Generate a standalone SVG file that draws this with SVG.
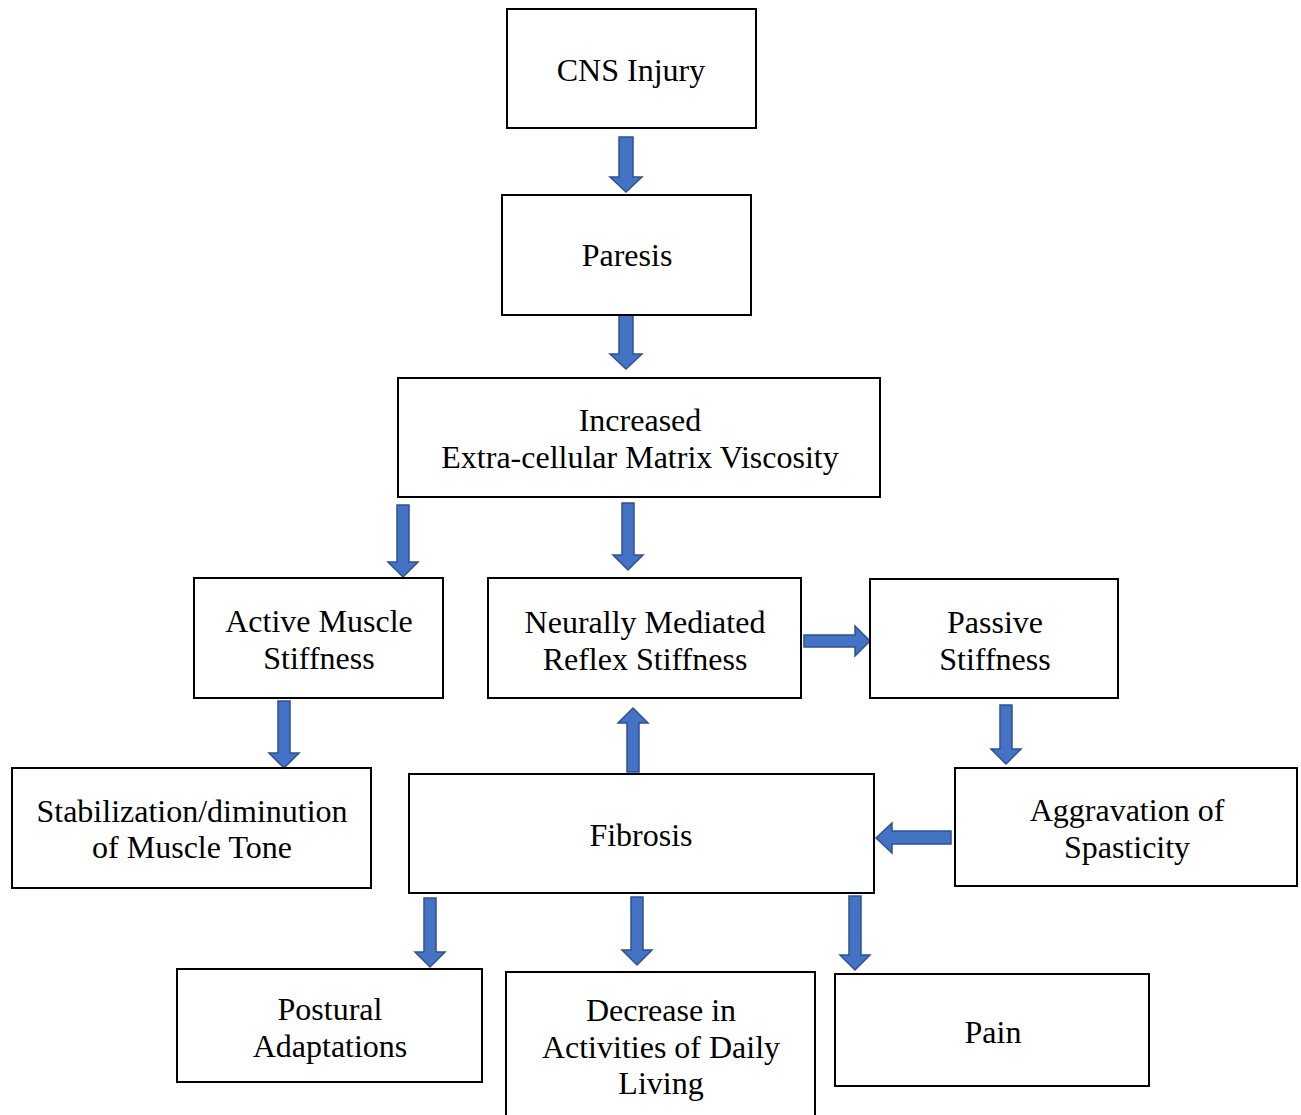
<svg xmlns="http://www.w3.org/2000/svg" width="1301" height="1115" viewBox="0 0 1301 1115">
<style>
.box{fill:#fff;stroke:#000;stroke-width:2}
.t{font-family:"Liberation Serif",serif;font-size:32px;fill:#000;text-anchor:middle}
.ar{fill:#4472C4;stroke:#2F528F;stroke-width:1.5;stroke-linejoin:miter}
</style>
<rect width="1301" height="1115" fill="#fff"/>
<g id="connectors">
<path class="ar" d="M619,137 H633 V177 H642 L626,192 L610,177 H619 Z"/>
<path class="ar" d="M619,315 H633 V354 H642 L626,369 L610,354 H619 Z"/>
<path class="ar" d="M397,505 H409 V562 H418 L403,577 L388,562 H397 Z"/>
<path class="ar" d="M622,503 H634 V555 H643 L628,570 L613,555 H622 Z"/>
<path class="ar" d="M278,701 H290 V753 H299 L284,768 L269,753 H278 Z"/>
<path class="ar" d="M804,635 H855 V626 L870,641 L855,656 V647 H804 Z"/>
<path class="ar" d="M1000,705 H1012 V749 H1021 L1006,764 L991,749 H1000 Z"/>
<path class="ar" d="M627,772 V723 H618 L633,708 L648,723 H639 V772 Z"/>
<path class="ar" d="M951,831 H892 V823 L876,838 L892,853 V844 H951 Z"/>
<path class="ar" d="M424,898 H436 V952 H445 L430,967 L415,952 H424 Z"/>
<path class="ar" d="M631,897 H643 V950 H652 L637,965 L622,950 H631 Z"/>
<path class="ar" d="M849,896 H861 V955 H870 L855,970 L840,955 H849 Z"/>
</g>
<g id="cns"><rect class="box" x="507" y="9" width="249" height="119"/><text class="t" x="631" y="81">CNS Injury</text></g>
<g id="paresis"><rect class="box" x="502" y="195" width="249" height="120"/><text class="t" x="627" y="266">Paresis</text></g>
<g id="ecm"><rect class="box" x="398" y="378" width="482" height="119"/><text class="t" x="640" y="431">Increased</text><text class="t" x="640" y="468">Extra-cellular Matrix Viscosity</text></g>
<g id="active"><rect class="box" x="194" y="578" width="249" height="120"/><text class="t" x="319" y="632">Active Muscle</text><text class="t" x="319" y="669">Stiffness</text></g>
<g id="neural"><rect class="box" x="488" y="578" width="313" height="120"/><text class="t" x="645" y="633">Neurally Mediated</text><text class="t" x="645" y="670">Reflex Stiffness</text></g>
<g id="passive"><rect class="box" x="870" y="579" width="248" height="119"/><text class="t" x="995" y="633">Passive</text><text class="t" x="995" y="670">Stiffness</text></g>
<g id="stabil"><rect class="box" x="12" y="768" width="359" height="120"/><text class="t" x="192" y="822">Stabilization/diminution</text><text class="t" x="192" y="858">of Muscle Tone</text></g>
<g id="fibrosis"><rect class="box" x="409" y="774" width="465" height="119"/><text class="t" x="641" y="846">Fibrosis</text></g>
<g id="aggrav"><rect class="box" x="955" y="768" width="342" height="118"/><text class="t" x="1127" y="821">Aggravation of</text><text class="t" x="1127" y="858">Spasticity</text></g>
<g id="postural"><rect class="box" x="177" y="969" width="305" height="113"/><text class="t" x="330" y="1020">Postural</text><text class="t" x="330" y="1057">Adaptations</text></g>
<g id="adl"><rect class="box" x="506" y="972" width="309" height="150"/><text class="t" x="661" y="1021">Decrease in</text><text class="t" x="661" y="1058">Activities of Daily</text><text class="t" x="661" y="1094">Living</text></g>
<g id="pain"><rect class="box" x="835" y="974" width="314" height="112"/><text class="t" x="993" y="1043">Pain</text></g>
</svg>
